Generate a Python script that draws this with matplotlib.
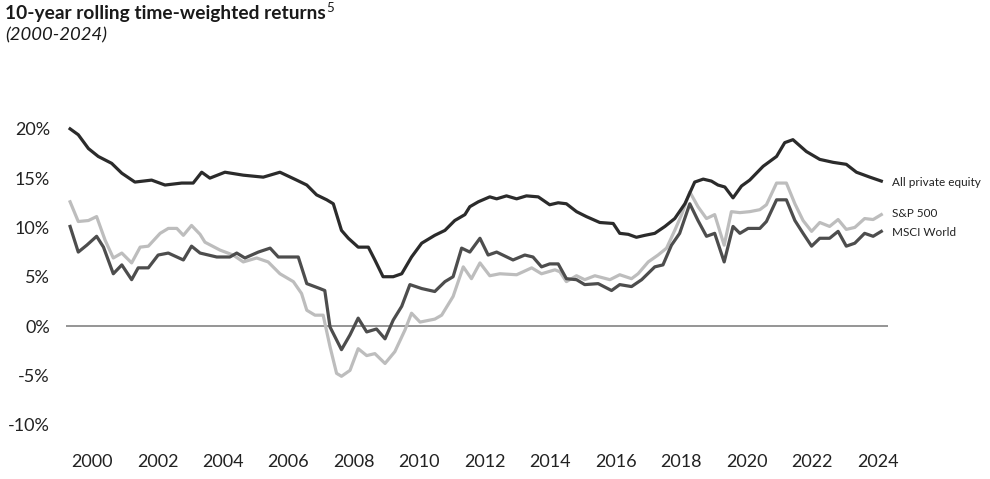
import matplotlib
matplotlib.use("Agg")
import matplotlib.pyplot as plt

plt.rcParams['font.family'] = ['Lato', 'DejaVu Sans']

# (decimal year, 10-year rolling return %)
pe_years = [1999.33, 1999.58, 1999.89, 2000.19, 2000.60, 2000.91, 2001.31, 2001.82, 2002.23, 2002.74,
            2003.09, 2003.35, 2003.60, 2004.06, 2004.62, 2005.23, 2005.74, 2006.25, 2006.56, 2006.86,
            2007.17, 2007.37, 2007.62, 2007.83, 2008.13, 2008.44, 2008.64, 2008.89, 2009.20, 2009.46,
            2009.76, 2010.07, 2010.47, 2010.78, 2011.08, 2011.39, 2011.54, 2011.80, 2012.15, 2012.36,
            2012.66, 2012.97, 2013.27, 2013.63, 2013.98, 2014.24, 2014.49, 2014.80, 2015.10, 2015.51,
            2015.92, 2016.12, 2016.38, 2016.63, 2016.89, 2017.19, 2017.50, 2017.80, 2018.11, 2018.41,
            2018.67, 2018.92, 2019.12, 2019.33, 2019.58, 2019.84, 2020.09, 2020.50, 2020.91, 2021.16,
            2021.41, 2021.82, 2022.23, 2022.64, 2023.04, 2023.35, 2023.76, 2024.11]
pe_values = [20.0, 19.4, 18.0, 17.2, 16.5, 15.5, 14.6, 14.8, 14.3, 14.5,
             14.5, 15.6, 15.0, 15.6, 15.3, 15.1, 15.6, 14.8, 14.3, 13.3,
             12.8, 12.4, 9.7, 8.9, 8.0, 8.0, 6.7, 5.0, 5.0, 5.3,
             7.0, 8.4, 9.2, 9.7, 10.7, 11.3, 12.1, 12.6, 13.1, 12.9,
             13.2, 12.9, 13.2, 13.1, 12.3, 12.5, 12.4, 11.6, 11.1, 10.5,
             10.4, 9.4, 9.3, 9.0, 9.2, 9.4, 10.1, 10.9, 12.4, 14.6,
             14.9, 14.7, 14.3, 14.1, 13.0, 14.2, 14.8, 16.2, 17.2, 18.6,
             18.9, 17.7, 16.9, 16.6, 16.4, 15.6, 15.1, 14.7]

sp_years = [1999.33, 1999.58, 1999.89, 2000.14, 2000.40, 2000.65, 2000.91, 2001.21, 2001.47, 2001.72,
            2002.08, 2002.33, 2002.59, 2002.79, 2003.04, 2003.30, 2003.45, 2003.91, 2004.31, 2004.62,
            2005.03, 2005.38, 2005.74, 2006.15, 2006.40, 2006.56, 2006.81, 2007.06, 2007.27, 2007.47,
            2007.62, 2007.88, 2008.13, 2008.39, 2008.64, 2008.95, 2009.25, 2009.56, 2009.76, 2010.02,
            2010.47, 2010.68, 2011.03, 2011.34, 2011.59, 2011.85, 2012.15, 2012.46, 2012.97, 2013.43,
            2013.73, 2014.14, 2014.29, 2014.49, 2014.80, 2015.05, 2015.36, 2015.82, 2016.12, 2016.48,
            2016.68, 2016.99, 2017.29, 2017.55, 2017.80, 2018.01, 2018.26, 2018.51, 2018.77, 2019.02,
            2019.31, 2019.53, 2019.79, 2020.09, 2020.40, 2020.60, 2020.91, 2021.21, 2021.47, 2021.72,
            2021.98, 2022.23, 2022.53, 2022.79, 2023.04, 2023.30, 2023.60, 2023.86, 2024.11]
sp_values = [12.6, 10.6, 10.7, 11.1, 8.7, 6.9, 7.4, 6.4, 8.0, 8.1,
             9.4, 9.9, 9.9, 9.2, 10.2, 9.3, 8.5, 7.7, 7.2, 6.5,
             6.9, 6.5, 5.3, 4.5, 3.3, 1.6, 1.1, 1.1, -2.1, -4.8,
             -5.1, -4.5, -2.3, -3.0, -2.8, -3.8, -2.6, -0.4, 1.3, 0.4,
             0.7, 1.1, 3.0, 6.0, 4.8, 6.4, 5.1, 5.3, 5.2, 5.9,
             5.3, 5.7, 5.5, 4.5, 5.1, 4.7, 5.1, 4.7, 5.2, 4.8,
             5.3, 6.5, 7.2, 7.9, 9.7, 11.3, 13.6, 12.1, 10.9, 11.3,
             8.2, 11.6, 11.5, 11.6, 11.8, 12.3, 14.5, 14.5, 12.4, 10.7,
             9.6, 10.5, 10.1, 10.8, 9.8, 10.0, 10.9, 10.8, 11.3]

msci_years = [1999.33, 1999.58, 1999.84, 2000.14, 2000.35, 2000.65, 2000.91, 2001.21, 2001.41, 2001.72,
              2002.02, 2002.33, 2002.79, 2003.04, 2003.30, 2003.81, 2004.21, 2004.42, 2004.67, 2005.08,
              2005.44, 2005.69, 2006.30, 2006.56, 2006.96, 2007.11, 2007.27, 2007.62, 2007.88, 2008.13,
              2008.39, 2008.69, 2008.95, 2009.20, 2009.46, 2009.71, 2010.07, 2010.47, 2010.78, 2011.03,
              2011.29, 2011.54, 2011.85, 2012.10, 2012.36, 2012.86, 2013.22, 2013.47, 2013.73, 2013.98,
              2014.24, 2014.49, 2014.80, 2015.05, 2015.46, 2015.87, 2016.12, 2016.48, 2016.79, 2017.19,
              2017.44, 2017.70, 2017.95, 2018.26, 2018.51, 2018.77, 2019.02, 2019.31, 2019.58, 2019.79,
              2020.04, 2020.40, 2020.60, 2020.91, 2021.21, 2021.47, 2021.72, 2021.98, 2022.23, 2022.53,
              2022.79, 2023.04, 2023.30, 2023.60, 2023.86, 2024.11]
msci_values = [10.1, 7.5, 8.2, 9.1, 8.0, 5.3, 6.2, 4.7, 5.9, 5.9,
               7.2, 7.4, 6.7, 8.1, 7.4, 7.0, 7.0, 7.4, 6.9, 7.5,
               7.9, 7.0, 7.0, 4.3, 3.8, 3.6, -0.1, -2.4, -0.9, 0.8,
               -0.6, -0.3, -1.3, 0.6, 2.0, 4.2, 3.8, 3.5, 4.5, 5.0,
               7.9, 7.5, 8.9, 7.2, 7.5, 6.7, 7.2, 7.0, 6.0, 6.3,
               6.3, 4.8, 4.7, 4.2, 4.3, 3.6, 4.2, 4.0, 4.7, 6.0,
               6.2, 8.2, 9.4, 12.4, 10.7, 9.1, 9.4, 6.5, 10.1, 9.4,
               9.9, 9.9, 10.6, 12.8, 12.8, 10.7, 9.4, 8.1, 8.9, 8.9,
               9.6, 8.1, 8.4, 9.4, 9.1, 9.6]

series_labels = ["All private equity", "S&P 500", "MSCI World"]
label_y = [14.6, 11.4, 9.5]
x_ticks = list(range(2000, 2025, 2))
y_ticks = [20, 15, 10, 5, 0, -5, -10]

fig = plt.figure(figsize=(9.9, 4.79), dpi=100)
ax = fig.add_axes([0.0665, 0.0724, 0.830, 0.6998])

ax.axhline(0, color="#8c8c8c", lw=1.3, zorder=1)
ax.plot(sp_years, sp_values, color="#bdbdbd", lw=2.3, zorder=2)
ax.plot(msci_years, msci_values, color="#4d4d4d", lw=2.3, zorder=3)
ax.plot(pe_years, pe_values, color="#2b2b2b", lw=2.3, zorder=4)

for lab, yv in zip(series_labels, label_y):
    ax.text(2024.45, yv, lab, fontsize=8.5, color="#222222", va="center", ha="left", clip_on=False)

ax.set_xlim(1999.2, 2024.3)
ax.set_ylim(-12, 22)
ax.set_xticks(x_ticks)
ax.set_xticklabels([str(y) for y in x_ticks])
ax.set_yticks(y_ticks)
ax.set_yticklabels(["%d%%" % v for v in y_ticks])
ax.tick_params(axis="both", length=0, labelsize=13, colors="#222222")
ax.tick_params(axis="y", pad=11.5)
ax.tick_params(axis="x", pad=7)
for s in ax.spines.values():
    s.set_visible(False)

title = fig.text(0.005, 0.971, "10-year rolling time-weighted returns", fontsize=13.8,
                 fontweight="bold", color="#1a1a1a", va="center", ha="left")
fig.canvas.draw()
bb = title.get_window_extent()
fig.text((bb.x1 + 1) / fig.bbox.width, 0.983, "5", fontsize=9.5, color="#1a1a1a",
         va="center", ha="left")
fig.text(0.005, 0.927, "(2000-2024)", fontsize=13.3, fontstyle="italic", color="#1a1a1a",
         va="center", ha="left")

fig.savefig("out.png", dpi=100)
